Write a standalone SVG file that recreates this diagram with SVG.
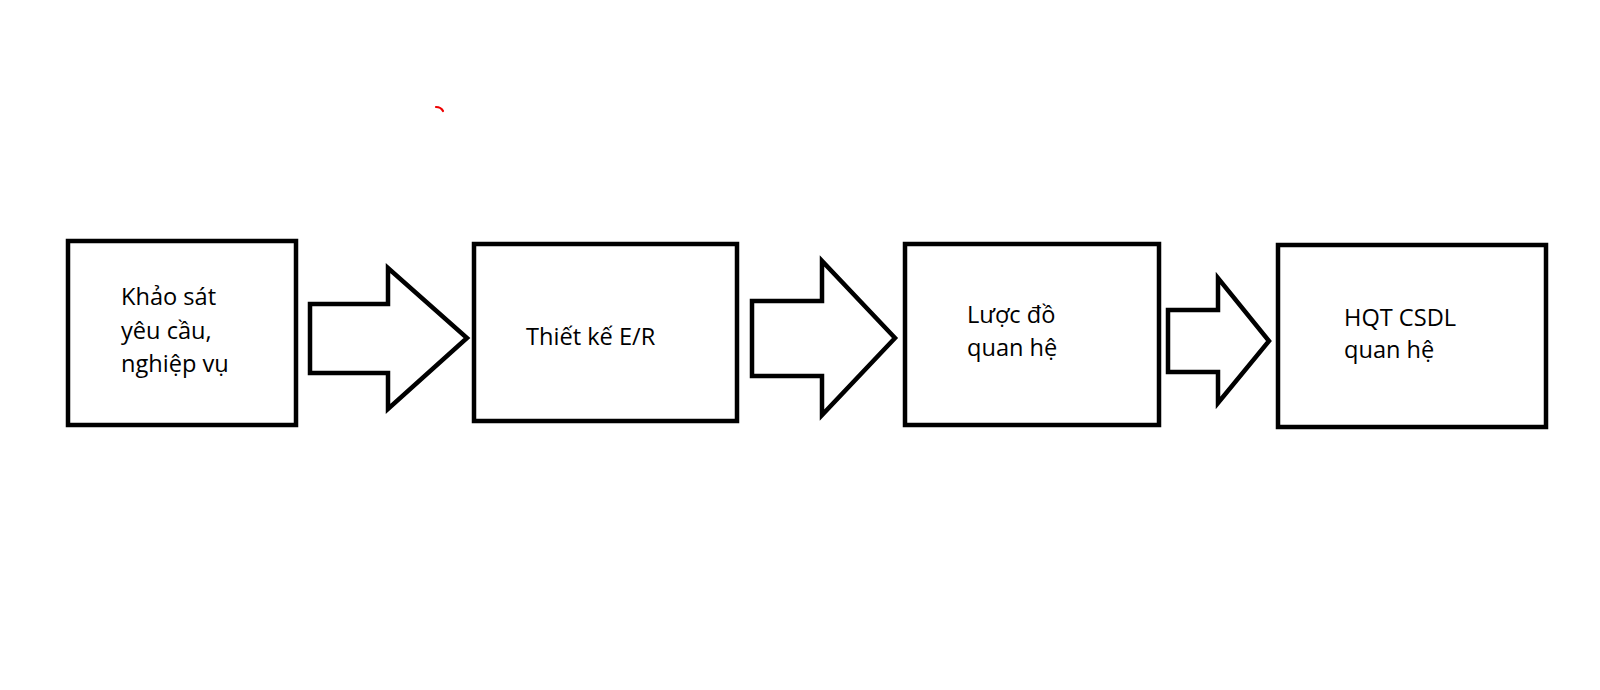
<svg xmlns="http://www.w3.org/2000/svg" width="1600" height="690" viewBox="0 0 1600 690">
<style>
.box{fill:#fff;stroke:#000;stroke-width:4.5}
.arr{fill:#fff;stroke:#000;stroke-width:4.5;stroke-linejoin:miter}
.lbl{font-family:"Open Sans","Noto Sans","Liberation Sans",sans-serif;font-size:23.6px;fill:#000}
</style>
<rect width="1600" height="690" fill="#fff"/>
<path d="M436,107 Q441,107 443,111" fill="none" stroke="#e00" stroke-width="2.2" stroke-linecap="round"/>
<g id="connectors">
<polygon class="arr" points="310,304 388,304 388,268 467,338 388,409 388,373 310,373"/>
<polygon class="arr" points="752,301 822,301 822,261 895,338 822,415 822,376 752,376"/>
<polygon class="arr" points="1168,310 1218,310 1218,278 1269,341 1218,403 1218,372 1168,372"/>
</g>
<g id="n1">
<rect class="box" x="68" y="241" width="228" height="184"/>
<text class="lbl" x="121" y="305">Khảo sát</text>
<text class="lbl" x="121" y="339">yêu cầu,</text>
<text class="lbl" x="121" y="372">nghiệp vụ</text>
</g>
<g id="n2">
<rect class="box" x="474" y="244" width="263" height="177"/>
<text class="lbl" x="526" y="345">Thiết kế E/R</text>
</g>
<g id="n3">
<rect class="box" x="905" y="244" width="254" height="181"/>
<text class="lbl" x="967" y="323">Lược đồ</text>
<text class="lbl" x="967" y="356">quan hệ</text>
</g>
<g id="n4">
<rect class="box" x="1278" y="245" width="268" height="182"/>
<text class="lbl" x="1344" y="326">HQT CSDL</text>
<text class="lbl" x="1344" y="358">quan hệ</text>
</g>
</svg>
